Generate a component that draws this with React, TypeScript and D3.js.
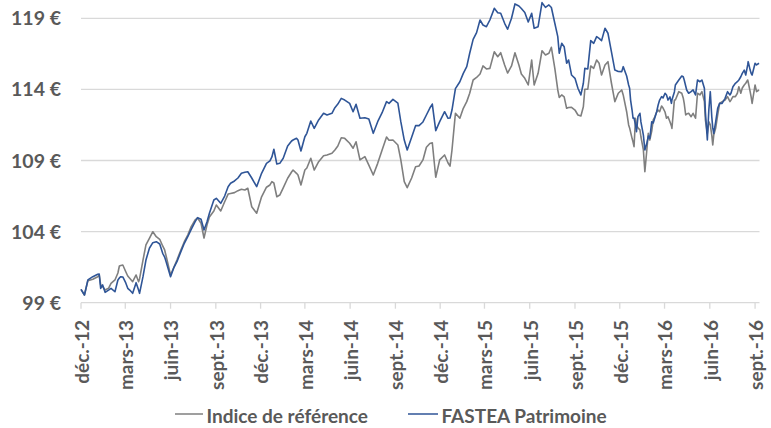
import React from "react";
import * as d3 from "d3";

const dates = [
"2012-12-01","2012-12-08","2012-12-15","2012-12-25","2013-01-04","2013-01-07","2013-01-10","2013-01-14","2013-01-19","2013-01-26",
"2013-01-31","2013-02-08","2013-02-14","2013-02-17","2013-02-20","2013-02-24","2013-03-02","2013-03-06","2013-03-10","2013-03-16",
"2013-03-23","2013-03-28","2013-03-30","2013-04-06","2013-04-12","2013-04-19","2013-04-26","2013-05-03","2013-05-10","2013-05-16",
"2013-05-20","2013-05-23","2013-06-01","2013-06-08","2013-06-14","2013-06-22","2013-06-29","2013-07-06","2013-07-13","2013-07-21",
"2013-07-26","2013-08-02","2013-08-08","2013-08-14","2013-08-19","2013-08-28","2013-09-02","2013-09-11","2013-09-19","2013-09-26",
"2013-10-01","2013-10-09","2013-10-16","2013-10-23","2013-10-30","2013-11-05","2013-11-13","2013-11-23","2013-12-03","2013-12-13",
"2013-12-20","2013-12-24","2013-12-28","2014-01-03","2014-01-09","2014-01-16","2014-01-25","2014-02-02","2014-02-05","2014-02-12",
"2014-02-15","2014-02-21","2014-03-01","2014-03-05","2014-03-13","2014-03-20","2014-03-29","2014-04-08","2014-04-15","2014-04-25",
"2014-05-01","2014-05-07","2014-05-14","2014-05-21","2014-05-31","2014-06-07","2014-06-13","2014-06-21","2014-07-01","2014-07-09",
"2014-07-18","2014-07-27","2014-08-05","2014-08-14","2014-08-19","2014-08-27","2014-09-06","2014-09-12","2014-09-19","2014-09-25",
"2014-10-04","2014-10-12","2014-10-19","2014-10-27","2014-11-03","2014-11-10","2014-11-15","2014-11-22","2014-11-30","2014-12-10",
"2014-12-17","2014-12-21","2014-12-25","2015-01-01","2015-01-10","2015-01-17","2015-01-24","2015-01-30","2015-02-06","2015-02-13",
"2015-02-20","2015-02-26","2015-03-05","2015-03-12","2015-03-21","2015-03-28","2015-04-03","2015-04-11","2015-04-17","2015-04-25",
"2015-05-02","2015-05-10","2015-05-15","2015-05-22","2015-05-29","2015-06-05","2015-06-10","2015-06-18","2015-06-26","2015-07-03",
"2015-07-10","2015-07-15","2015-07-22","2015-07-28","2015-07-31","2015-08-05","2015-08-10","2015-08-15","2015-08-19","2015-08-25",
"2015-09-01","2015-09-07","2015-09-13","2015-09-18","2015-09-21","2015-09-27","2015-10-03","2015-10-09","2015-10-15","2015-10-20",
"2015-10-25","2015-11-01","2015-11-07","2015-11-14","2015-11-21","2015-11-28","2015-12-05","2015-12-08","2015-12-15","2015-12-19",
"2015-12-21","2015-12-23","2015-12-26","2015-12-28","2015-12-30","2016-01-02","2016-01-04","2016-01-07","2016-01-11","2016-01-13",
"2016-01-18","2016-01-21","2016-01-25","2016-01-28","2016-01-31","2016-02-04","2016-02-07","2016-02-10","2016-02-14","2016-02-17",
"2016-02-20","2016-02-24","2016-02-27","2016-03-02","2016-03-05","2016-03-08","2016-03-12","2016-03-15","2016-03-16","2016-03-21",
"2016-03-23","2016-03-30","2016-04-05","2016-04-08","2016-04-10","2016-04-13","2016-04-15","2016-04-19","2016-04-24","2016-04-28",
"2016-05-03","2016-05-07","2016-05-12","2016-05-16","2016-05-21","2016-05-23","2016-05-27","2016-05-30","2016-06-02","2016-06-05",
"2016-06-07","2016-06-09","2016-06-13","2016-06-17","2016-06-21","2016-06-26","2016-07-02","2016-07-07","2016-07-12","2016-07-14",
"2016-07-18","2016-07-23","2016-07-27","2016-07-30","2016-08-03","2016-08-06","2016-08-10","2016-08-13","2016-08-17","2016-08-18",
"2016-08-22","2016-08-24","2016-08-26","2016-09-01","2016-09-04","2016-09-09"
];

const fastea = [
99.94,99.54,100.60,100.83,101.00,101.02,100.01,100.25,99.73,99.89,
100.01,99.77,100.60,100.74,100.83,100.81,100.39,100.01,99.89,99.66,
100.41,99.89,99.66,100.83,102.00,102.83,103.22,103.29,103.13,102.47,
102.21,101.88,100.83,101.49,101.88,102.59,103.18,103.64,104.16,104.70,
104.98,104.87,104.11,104.68,105.29,106.22,106.34,105.99,106.50,107.16,
107.40,107.56,107.77,108.10,108.17,108.21,107.77,107.16,108.10,108.80,
108.97,109.25,109.79,108.75,108.80,109.16,110.02,110.37,110.44,110.56,
110.44,109.67,110.67,110.91,111.78,111.26,111.85,112.32,112.20,112.32,
112.71,112.97,113.37,113.25,113.02,112.43,112.95,111.97,112.01,111.92,
110.91,111.73,112.36,113.14,113.02,113.30,113.04,111.73,110.44,109.74,
110.63,111.45,111.45,111.71,112.20,112.69,112.97,111.10,111.73,112.43,
111.97,111.99,112.55,114.05,114.54,115.13,115.60,116.54,117.52,117.99,
118.88,118.53,118.41,118.88,119.70,119.39,119.35,118.65,118.23,119.00,
120.01,119.87,119.69,119.41,118.74,119.35,118.30,118.41,120.10,119.77,
119.94,119.76,118.65,117.71,116.54,117.24,117.00,115.84,116.07,115.01,
114.78,114.08,113.61,114.43,115.48,115.44,117.43,117.24,117.71,117.59,
117.43,118.30,117.95,116.65,115.36,115.26,115.25,115.60,114.94,114.31,
114.08,113.25,112.55,111.97,111.99,111.50,111.03,112.08,112.32,111.71,
110.79,109.74,110.21,110.72,110.56,111.73,111.64,111.97,112.43,112.90,
113.25,113.49,113.40,113.73,113.61,113.25,113.47,113.02,113.25,113.82,
114.31,114.66,114.94,114.89,114.66,114.24,113.96,113.73,113.84,113.96,
113.61,114.66,114.54,114.66,114.08,112.43,110.44,112.55,113.84,112.08,
111.29,110.91,111.73,112.67,113.02,113.02,113.37,113.84,113.61,113.73,
114.19,114.43,114.54,114.66,114.89,115.13,115.36,115.01,115.72,115.95,
115.36,115.13,115.01,115.84,115.72,115.84
];

const indice = [
99.94,99.54,100.55,100.65,100.83,100.95,100.25,100.13,99.89,100.01,
100.36,100.60,101.09,101.58,101.62,101.65,101.18,100.88,100.72,100.48,
100.95,100.48,100.67,102.00,103.06,103.53,103.99,103.64,103.46,102.99,
102.71,102.28,100.95,101.51,102.00,102.71,103.29,103.76,104.35,104.82,
104.96,104.58,103.55,104.46,105.03,105.45,105.87,105.45,106.10,106.64,
106.68,106.74,106.88,106.98,106.93,107.05,105.75,105.29,106.45,107.12,
107.28,107.51,107.42,106.45,106.57,107.07,107.75,108.19,108.33,108.10,
107.98,107.28,108.33,108.47,109.16,108.33,108.92,109.34,109.39,109.51,
109.74,110.02,110.60,110.56,110.21,109.86,110.32,109.04,109.27,108.68,
107.98,108.80,109.74,110.65,110.42,110.44,110.09,109.04,107.51,107.09,
107.77,108.56,108.61,109.04,109.93,110.20,110.25,107.82,109.04,109.39,
108.82,108.61,109.74,112.32,111.97,112.67,113.14,113.73,114.66,114.84,
115.08,115.65,115.44,115.48,116.65,116.30,116.58,115.72,115.15,115.65,
116.58,115.72,115.08,114.78,114.31,116.07,114.31,115.13,116.72,116.42,
116.54,116.96,115.48,113.96,113.44,113.61,113.47,112.67,112.73,112.74,
112.55,112.20,112.13,112.78,114.01,114.01,115.65,115.48,116.07,115.84,
115.01,115.72,115.95,114.45,113.14,113.73,113.96,113.61,112.43,111.50,
111.29,111.00,110.56,110.30,109.97,111.97,111.50,111.29,111.15,110.67,
109.74,108.21,109.74,110.91,110.44,111.07,111.85,112.06,112.41,112.55,
112.43,112.83,112.69,112.41,111.97,112.08,111.73,111.43,111.26,113.25,
113.25,113.84,113.73,113.40,113.02,112.20,112.27,112.32,112.08,112.32,
111.97,113.73,113.61,113.84,113.14,111.85,110.91,111.73,111.50,110.79,
110.09,110.79,111.29,112.20,113.02,113.14,113.25,113.49,113.14,113.25,
113.49,113.49,113.73,114.19,113.73,114.10,114.31,114.43,114.66,114.52,
113.84,113.47,113.02,114.31,113.84,113.96
];

const xTickDates = ["2012-12-01","2013-03-01","2013-06-01","2013-09-01","2013-12-01","2014-03-01","2014-06-01","2014-09-01","2014-12-01","2015-03-01","2015-06-01","2015-09-01","2015-12-01","2016-03-01","2016-06-01","2016-09-01"];
const xTickLabels = ["déc.-12","mars-13","juin-13","sept.-13","déc.-13","mars-14","juin-14","sept.-14","déc.-14","mars-15","juin-15","sept.-15","déc.-15","mars-16","juin-16","sept.-16"];
const yTicks = [99, 104, 109, 114, 119];
const seriesNames = ["Indice de référence", "FASTEA Patrimoine"];
const seriesColors = ["#7f7f7f", "#2f5597"];

const W = 771, H = 428;
const FONT = "Lato, 'Open Sans', sans-serif";
const TXT = "#595959";

export default function App() {
  const parse = d3.utcParse("%Y-%m-%d");
  const x = d3.scaleUtc()
    .domain([parse("2012-12-01")!, parse("2016-09-10")!])
    .range([81, 759.5]);
  const y = d3.scaleLinear().domain([99, 120.287]).range([302.7, 0]);

  const pts = (vals: number[]) => dates.map((d, i) => [parse(d)!, vals[i]] as [Date, number]);
  const line = d3.line<[Date, number]>().x(d => x(d[0])).y(d => y(d[1]));

  const series = [indice, fastea];

  return (
    <svg width={W} height={H} style={{ position: "absolute", left: 0, top: 0, background: "#fff" }}>
      <rect x={0} y={0} width={W} height={H} fill="#fff" />
      {yTicks.slice(1).map(t => (
        <line key={t} x1={81} x2={759.5} y1={y(t)} y2={y(t)} stroke="#d9d9d9" strokeWidth={1.3} />
      ))}
      <line x1={81} x2={759.5} y1={y(99)} y2={y(99)} stroke="#d9d9d9" strokeWidth={1.3} />
      {xTickDates.map(d => (
        <line key={d} x1={x(parse(d)!)} x2={x(parse(d)!)} y1={y(99)} y2={y(99) + 6} stroke="#d9d9d9" strokeWidth={1.3} />
      ))}
      {yTicks.map(t => (
        <text key={t} x={61} y={y(t)} dy="0.36em" textAnchor="end" fontFamily={FONT} fontWeight={700} fontSize={19.5} fill={TXT}>
          {t + " €"}
        </text>
      ))}
      {xTickDates.map((d, i) => (
        <text key={d} transform={`translate(${x(parse(d)!) + 1},320) rotate(-90)`} dy="0.36em" textAnchor="end"
          fontFamily={FONT} fontWeight={700} fontSize={19} fill={TXT}>
          {xTickLabels[i]}
        </text>
      ))}
      {series.map((vals, i) => (
        <path key={i} d={line(pts(vals)) || ""} fill="none" stroke={seriesColors[i]} strokeWidth={1.6} strokeLinejoin="round" />
      ))}
      <g fontFamily={FONT} fontWeight={700} fontSize={19} fill={TXT}>
        <line x1={175} x2={203} y1={414} y2={414} stroke={seriesColors[0]} strokeWidth={1.5} />
        <text x={206.5} y={423}>{seriesNames[0]}</text>
        <line x1={408} x2={438} y1={414} y2={414} stroke={seriesColors[1]} strokeWidth={1.5} />
        <text x={441.5} y={423}>{seriesNames[1]}</text>
      </g>
    </svg>
  );
}
